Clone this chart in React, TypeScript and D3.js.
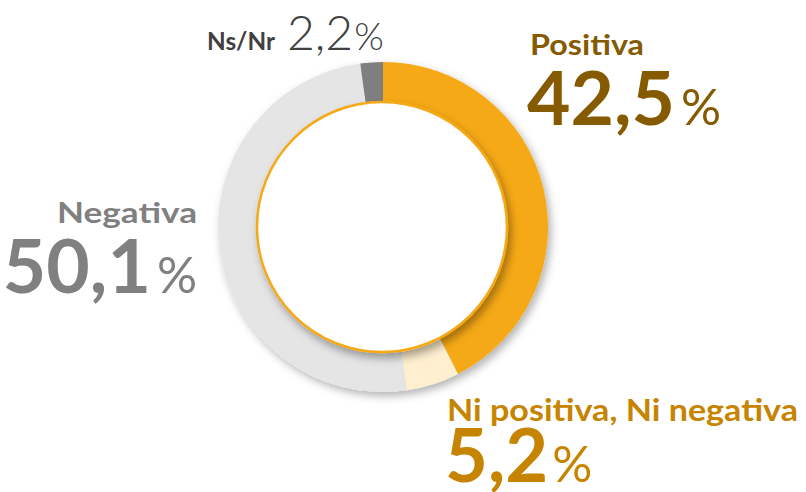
import React from "react";
import * as d3 from "d3";

const categories = ["Positiva", "Ni positiva, Ni negativa", "Negativa", "Ns/Nr"];
const values = [42.5, 5.2, 50.1, 2.2];
const valueLabels = ["42,5", "5,2", "50,1", "2,2"];

const W = 806;
const H = 492;
const cx = 383;
const cy = 227;
const rOuter = 165;
const rInnerCircle = 125;

const color = d3
  .scaleOrdinal<string, string>()
  .domain(categories)
  .range(["#F6A917", "#FDEFCF", "#E5E5E5", "#7F7F7F"]);

export default function App() {
  const pie = d3
    .pie<number>()
    .sort(null)
    .value((d) => d);
  const arcs = pie(values);
  const arc = d3.arc<d3.PieArcDatum<number>>().innerRadius(110).outerRadius(rOuter);
  const font = "Lato, 'Open Sans', sans-serif";

  return (
    <div style={{ position: "absolute", left: 0, top: 0 }}>
      <svg width={W} height={H} style={{ display: "block" }}>
        <defs>
          <filter id="shOuter" x="-20%" y="-20%" width="140%" height="140%">
            <feDropShadow dx="3" dy="4" stdDeviation="4" floodColor="#000" floodOpacity="0.3" />
          </filter>
          <filter id="shInner" x="-20%" y="-20%" width="140%" height="140%">
            <feDropShadow dx="3" dy="5" stdDeviation="4" floodColor="#000" floodOpacity="0.35" />
          </filter>
        </defs>
        <g transform={`translate(${cx},${cy})`}>
          <g filter="url(#shOuter)">
            {arcs.map((a, i) => (
              <path key={i} d={arc(a) || ""} fill={color(categories[i])} />
            ))}
          </g>
          <circle
            r={rInnerCircle}
            cx={-1}
            fill="#fff"
            stroke="#F6A917"
            strokeWidth={2.5}
            filter="url(#shInner)"
          />
        </g>

        {/* Ns/Nr */}
        <text x={207} y={50} fontFamily={font} fontWeight="bold" fontSize={25} fill="#404040"
          textLength={68} lengthAdjust="spacingAndGlyphs">
          {categories[3]}
        </text>
        <text x={287} y={50} fontFamily={font} fill="#404040">
          <tspan fontWeight={300} fontSize={48}>{valueLabels[3]}</tspan>
          <tspan dx={1} fontWeight={300} fontSize={38}>%</tspan>
        </text>

        {/* Negativa */}
        <text x={57} y={223} fontFamily={font} fontWeight="bold" fontSize={28} fill="#808080"
          textLength={140} lengthAdjust="spacingAndGlyphs">
          {categories[2]}
        </text>
        <text x={197} y={293} textAnchor="end" fontFamily={font} fill="#808080">
          <tspan fontWeight="bold" fontSize={75}>{valueLabels[2]}</tspan>
          <tspan dx={6} fontWeight={400} fontSize={50}>%</tspan>
        </text>

        {/* Positiva */}
        <text x={530} y={55} fontFamily={font} fontWeight="bold" fontSize={29} fill="#855A00"
          textLength={114} lengthAdjust="spacingAndGlyphs">
          {categories[0]}
        </text>
        <text x={527} y={125} fontFamily={font} fill="#855A00">
          <tspan fontWeight="bold" fontSize={75}>{valueLabels[0]}</tspan>
          <tspan dx={6} fontWeight={400} fontSize={50}>%</tspan>
        </text>

        {/* Ni positiva, Ni negativa */}
        <text x={447} y={421} fontFamily={font} fontWeight="bold" fontSize={31} fill="#C68400"
          textLength={351} lengthAdjust="spacingAndGlyphs">
          {categories[1]}
        </text>
        <text x={445} y={482} fontFamily={font} fill="#C68400">
          <tspan fontWeight="bold" fontSize={74}>{valueLabels[1]}</tspan>
          <tspan dx={4} fontWeight={400} fontSize={50}>%</tspan>
        </text>
      </svg>
    </div>
  );
}
